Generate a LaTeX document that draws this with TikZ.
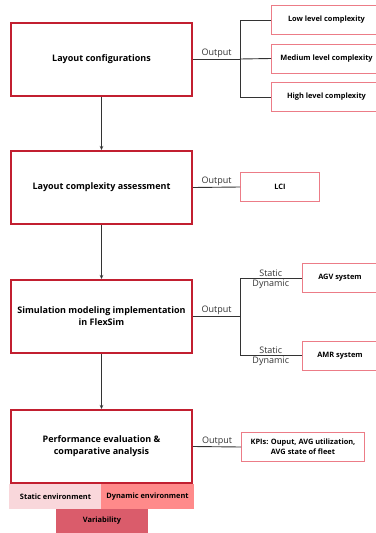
\documentclass[tikz,border=0pt]{standalone}
\usepackage{fontspec}
\setmainfont{Open Sans}
\usepackage{xcolor}
\usepackage{tikz}
\usetikzlibrary{positioning, arrows.meta}
\definecolor{boxred}{HTML}{C21F30}
\definecolor{outpink}{HTML}{EC7C87}
\definecolor{staticpink}{HTML}{F9D7DB}
\definecolor{dynamicred}{HTML}{FF8A8A}
\definecolor{varred}{HTML}{DA5C6B}
\definecolor{linegray}{HTML}{333333}

\begin{document}
\begin{tikzpicture}[x=1pt, y=-1pt,
  stage/.style={draw=boxred, line width=2pt, minimum width=181pt, minimum height=73pt,
                align=center, font=\fontsize{9}{12}\selectfont\bfseries},
  result/.style={draw=outpink, line width=0.9pt, minimum height=29pt, inner sep=2pt,
                 align=center, font=\fontsize{7.4}{10}\selectfont\bfseries},
  envbox/.style={minimum width=92.5pt, minimum height=25pt, inner sep=0pt,
                 font=\fontsize{7.4}{9}\selectfont\bfseries},
  link/.style={draw=linegray, line width=0.9pt},
  flow/.style={link, -{Stealth[length=4pt, width=3.5pt]}},
  outlabel/.style={font=\fontsize{9}{11}\selectfont, text=linegray, inner sep=1pt}
]
  \useasboundingbox (0,0) rectangle (375,533);

  % main stages
  \node[stage] (layout) at (101.5,59) {Layout configurations};
  \node[stage] (assess) at (101.5,187.5) {Layout complexity assessment};
  \node[stage] (sim) at (101.5,316.5) {Simulation modeling implementation\\in FlexSim};
  \node[stage] (perf) at (101.5,446.5) {Performance evaluation \&\\comparative analysis};

  % outputs
  \node[result, minimum width=110pt] (low) at (326.5,20) {Low level complexity};
  \node[result, minimum width=110pt] (medium) at (326.5,58.5) {Medium level complexity};
  \node[result, minimum width=110pt] (high) at (326.5,97) {High level complexity};
  \node[result, minimum width=79pt] (lci) at (280,187) {LCI};
  \node[result, minimum width=76pt] (agv) at (340,278) {AGV system};
  \node[result, minimum width=76pt] (amr) at (340,355.5) {AMR system};
  \node[result, minimum width=123pt] (kpi) at (303,447) {KPIs: Ouput, AVG utilization,\\AVG state of fleet};

  % environment blocks
  \node[envbox, fill=staticpink] (static) at (55.5,496.5) {Static environment};
  \node[envbox, fill=dynamicred] (dynamic) at (147.5,496.5) {Dynamic environment};
  \node[envbox, fill=varred, minimum height=24pt] (variability) at (102,521) {Variability};

  \coordinate (split1) at (240,59);
  \coordinate (split3) at (240,316.5);

  % flow between stages
  \draw[flow] (layout) -- (assess);
  \draw[flow] (assess) -- (sim);
  \draw[flow] (sim) -- (perf);

  % output connectors
  \draw[link] (layout.east) -- node[outlabel, above] {Output} (split1);
  \draw[link] (split1) |- (low.west);
  \draw[link] (split1) -- (medium.west);
  \draw[link] (split1) |- (high.west);
  \draw[link] (assess.east) -- node[outlabel, above] {Output} (lci.west);
  \draw[link] (sim.east) -- node[outlabel, above] {Output} (split3);
  \draw[link] (split3) |- node[outlabel, pos=0.75, above] {Static}
                          node[outlabel, pos=0.75, below] {Dynamic} (agv.west);
  \draw[link] (split3) |- node[outlabel, pos=0.75, above] {Static}
                          node[outlabel, pos=0.75, below] {Dynamic} (amr.west);
  \draw[link] (perf.east) -- node[outlabel, above] {Output} (kpi.west);
\end{tikzpicture}
\end{document}
